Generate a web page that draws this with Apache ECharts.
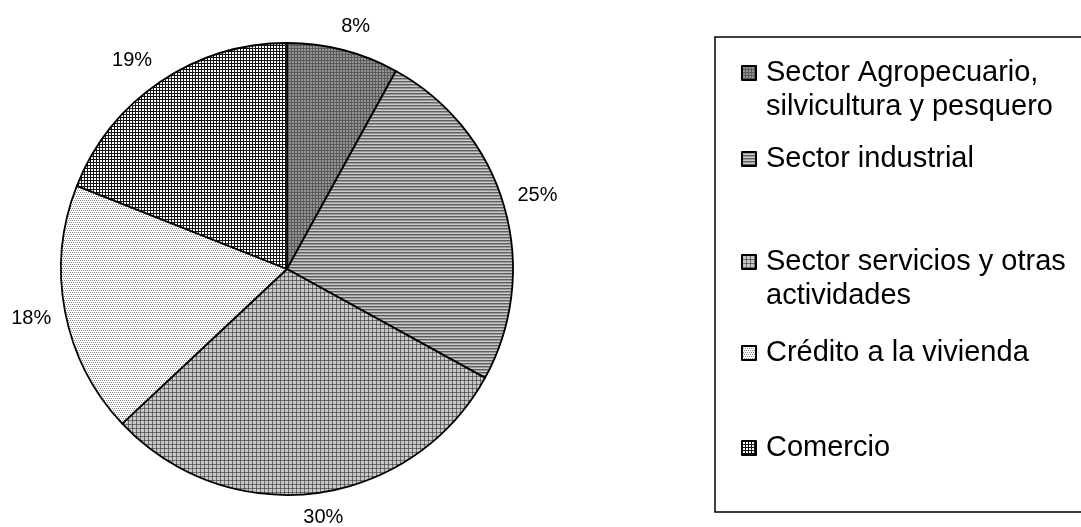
<!DOCTYPE html>
<html><head><meta charset="utf-8">
<script src="https://cdn.jsdelivr.net/npm/echarts/dist/echarts.min.js"></script>
<style>html,body{margin:0;padding:0;background:#fff}#c{width:1081px;height:527px}</style>
</head><body><div id="c"></div><script>
const categories = ['Sector Agropecuario, silvicultura y pesquero','Sector industrial','Sector servicios y otras actividades','Crédito a la vivienda','Comercio'];
const legendLabels = ['Sector Agropecuario,\nsilvicultura y pesquero','Sector industrial','Sector servicios y otras\nactividades','Crédito a la vivienda','Comercio'];
const values = [8,25,30,18,19];

const FONT = "'Liberation Sans', Arial, sans-serif";
const CX = 287, CY = 269, R = 226, GAP = 14;
const LINE_H = 34;
const legendTops = [22,142,211,336,431];

function makeTile(rows, map){
  const h = rows.length, w = rows[0].length;
  const c = document.createElement('canvas'); c.width = w; c.height = h;
  const ctx = c.getContext('2d');
  for (let y=0;y<h;y++) for (let x=0;x<w;x++){ ctx.fillStyle = map[rows[y][x]]; ctx.fillRect(x,y,1,1); }
  return {image: c, repeat: 'repeat'};
}
const patterns = [
  makeTile(['aaa','abb','abb'], {a:'#5a5a5a', b:'#949494'}),
  makeTile(['a','b','c'], {a:'#5e5e5e', b:'#9a9a9a', c:'#cacaca'}),
  makeTile(['xaaa','awww','awww','awww'], {x:'#484848', a:'#6e6e6e', w:'#c8c8c8'}),
  makeTile(['gwgw','wwww','wgwg','wwww'], {g:'#8c8c8c', w:'#ffffff'}),
  makeTile(['kkk','kww','kww'], {k:'#141414', w:'#ffffff'})
];

const total = values.reduce((a,b)=>a+b,0);
let cum = 0;
const mids = values.map(v=>{ const m = 90 - (cum + v/2)/total*360; cum += v; return m*Math.PI/180; });
const clamp = v => Math.max(-1, Math.min(1, v));

const chart = echarts.init(document.getElementById('c'));
chart.setOption({
  backgroundColor:'#fff',
  animation:false,
  graphic:[{type:'rect', shape:{x:715, y:37, width:380, height:475}, style:{fill:'none', stroke:'#000', lineWidth:1.5}, silent:true}],
  legend: categories.map((name,i)=>{
    const nLines = legendLabels[i].split('\n').length;
    const txt = '\n'.repeat(nLines-1) + legendLabels[i];
    return {
      data:[name], left:741, top:legendTops[i], orient:'vertical', padding:0,
      itemWidth:14, itemHeight:14, icon:'rect', selectedMode:false,
      formatter: ()=>txt,
      textStyle:{fontSize:29, lineHeight:LINE_H, color:'#000', fontFamily:FONT, padding:[0,0,0,5]}
    };
  }),
  series:[{
    type:'pie', center:[CX,CY], radius:R, startAngle:90, clockwise:true,
    avoidLabelOverlap:false,
    data: categories.map((n,i)=>({name:n, value:values[i], itemStyle:{color:patterns[i]}})),
    itemStyle:{borderColor:'#000', borderWidth:1.8},
    label:{show:true, position:'outside', formatter:p=>Math.round(p.percent)+'%', fontSize:20, color:'#000', fontFamily:FONT},
    labelLine:{show:false},
    emphasis:{disabled:true},
    labelLayout:function(p){
      const a = mids[p.dataIndex];
      const hw = p.labelRect.width/2, hh = p.labelRect.height/2;
      const c = Math.cos(a), s = Math.sin(a);
      const px = CX + (R+GAP)*c, py = CY - (R+GAP)*s;
      return {x: px + hw*clamp(c*2.5), y: py - hh*clamp(s*2.5), align:'center', verticalAlign:'middle'};
    }
  }]
});
</script></body></html>
